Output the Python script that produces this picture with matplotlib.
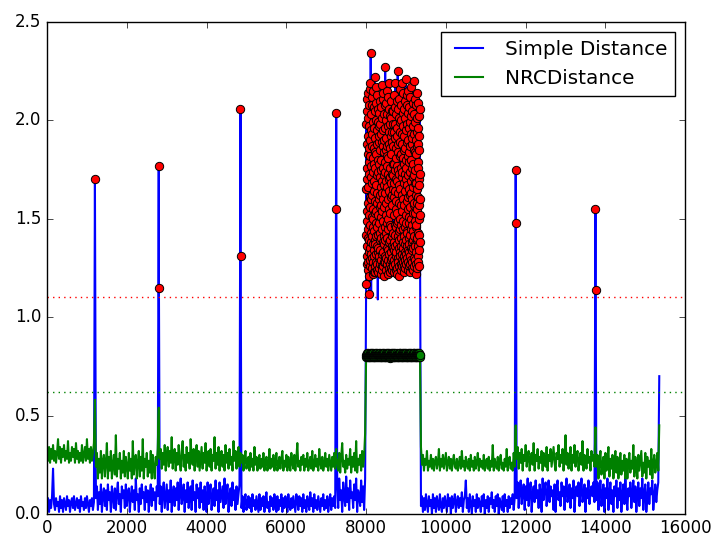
import numpy as np
import matplotlib
matplotlib.use("Agg")
import matplotlib.pyplot as plt

plt.style.use("classic")

# baseline segments (start, end) sampled every ~25, values in hundredths
seg_start = [0, 1225, 2825, 4875, 7275, 9375, 11775, 13775]
seg_end = [1175, 2775, 4825, 7225, 7975, 11725, 13725, 15325]

blue_seg = [
    [4, 8, 1, 7, 3, 9, 23, 5, 2, 8, 4, 6, 1, 9, 3, 7, 1, 8, 5, 2, 9, 4, 7, 1,
     6, 8, 3, 9, 2, 5, 8, 3, 7, 1, 9, 4, 6, 2, 8, 3, 9, 5, 1, 7, 4, 8, 2, 6],
    [8, 14, 2, 11, 5, 15, 1, 10, 13, 4, 12, 2, 15, 7, 11, 1, 14, 9, 3, 13, 2, 11, 16, 5, 10, 1, 14, 8, 12, 3, 15,
     4, 11, 13, 1, 9, 14, 6, 12, 2, 18, 7, 10, 1, 13, 5, 15, 8, 11, 2, 14, 6, 12, 1, 10, 15, 4, 13, 7, 11, 2, 14, 9],
    [5, 14, 1, 11, 16, 3, 9, 15, 2, 12, 6, 17, 1, 10, 14, 4, 13, 7, 16, 2, 11, 18, 5, 9, 15, 1, 12, 6, 16, 3, 10, 14, 2,
     17, 7, 11, 1, 15, 8, 13, 3, 16, 6, 12, 2, 14, 9, 1, 16, 5, 11, 15, 2, 9, 13, 4, 17, 7, 12, 1, 16, 6, 10, 14, 3,
     18, 5, 11, 15, 1, 9, 13, 4, 16, 7, 12, 2, 14, 5, 10, 15],
    [3, 9, 1, 7, 10, 2, 6, 9, 3, 8, 1, 10, 4, 7, 2, 9, 5, 1, 10, 2, 8, 4, 9, 1, 7, 11, 3, 6, 1, 9, 4, 8,
     2, 10, 5, 1, 9, 2, 7, 4, 10, 1, 8, 3, 9, 6, 1, 10, 4, 2, 8, 3, 9, 5, 1, 10, 7, 2, 9, 4, 8, 1, 10,
     3, 7, 1, 9, 5, 2, 11, 4, 8, 1, 10, 3, 7, 2, 9, 5, 1, 8, 4, 10, 2, 7, 3, 9, 1, 6, 10, 2, 8, 4, 9, 3],
    [14, 3, 18, 7, 12, 1, 16, 9, 4, 19, 6, 13, 2, 17, 8, 11, 3, 15, 7, 18, 1, 12, 9, 4, 17, 6, 14, 2, 18],
    [4, 9, 1, 8, 2, 10, 5, 1, 9, 4, 7, 0, 10, 3, 8, 1, 9, 5, 2, 10, 4, 1, 8, 3, 9, 5, 1, 10, 4, 8, 0, 9,
     3, 7, 10, 1, 6, 9, 3, 8, 4, 11, 1, 7, 9, 17, 3, 8, 1, 10, 5, 0, 9, 4, 7, 1, 10, 3, 8, 5, 1, 9, 4,
     10, 0, 7, 3, 9, 1, 8, 5, 11, 3, 7, 1, 9, 4, 10, 0, 8, 5, 2, 9, 1, 10, 4, 7, 1, 9, 3, 8, 5, 10, 2, 8],
    [8, 16, 3, 13, 17, 5, 11, 15, 2, 14, 7, 18, 4, 12, 16, 1, 10, 14, 6, 17, 8, 12, 3, 15, 11, 1, 18, 7, 13, 16,
     4, 10, 17, 6, 14, 9, 12, 2, 15, 1, 13, 17, 7, 11, 4, 16, 9, 14, 2, 12, 18, 6, 10, 15, 3, 13, 8, 17, 1, 11,
     14, 9, 16, 4, 12, 18, 6, 10, 15, 1, 13, 8, 17, 5, 11, 14, 9, 16, 6],
    [7, 16, 2, 12, 17, 4, 10, 15, 1, 13, 8, 18, 2, 11, 16, 5, 12, 1, 14, 9, 17, 3, 13, 7, 16, 1, 10, 15, 5, 18, 8,
     2, 13, 9, 16, 3, 11, 17, 6, 14, 1, 10, 16, 4, 13, 8, 18, 2, 11, 15, 1, 8, 16, 5, 13, 10, 17, 2, 9, 15, 6, 12, 16],
]

green_seg = [
    [30, 27, 34, 26, 33, 28, 35, 27, 32, 26, 31, 38, 28, 34, 26, 33, 29, 35, 27, 32, 28, 37, 26, 31,
     27, 34, 29, 33, 26, 36, 28, 32, 26, 31, 27, 35, 26, 30, 34, 27, 38, 28, 33, 26, 34, 27, 31, 36],
    [24, 31, 18, 28, 21, 32, 18, 27, 30, 19, 26, 36, 18, 29, 22, 32, 18, 25, 30, 20, 40, 19, 28, 23, 31, 18, 27, 21, 32, 19, 29,
     24, 18, 31, 22, 28, 18, 37, 20, 27, 30, 18, 26, 32, 19, 29, 22, 38, 18, 28, 24, 31, 19, 27, 21, 32, 18, 30, 23, 18, 29, 25, 33],
    [28, 33, 23, 31, 25, 35, 22, 30, 34, 24, 32, 26, 39, 23, 29, 33, 22, 31, 25, 35, 27, 22, 32, 37, 24, 30, 22, 34, 26, 31, 23, 38, 28,
     25, 33, 22, 30, 35, 24, 32, 22, 28, 34, 23, 31, 26, 36, 22, 29, 32, 24, 33, 22, 30, 27, 39, 23, 31, 25, 34, 22, 29, 32, 24, 30,
     22, 35, 26, 31, 23, 33, 25, 29, 22, 37, 27, 32, 23, 30, 34, 24],
    [26, 30, 22, 28, 32, 23, 27, 29, 22, 31, 24, 28, 22, 34, 25, 29, 22, 27, 30, 23, 28, 24, 31, 22, 27, 29, 22, 25, 33, 23, 28, 24,
     30, 22, 26, 31, 22, 25, 29, 23, 28, 32, 22, 27, 24, 30, 22, 29, 25, 22, 31, 26, 23, 30, 22, 28, 36, 24, 27, 22, 29, 25, 30,
     22, 28, 24, 31, 22, 26, 29, 23, 32, 22, 25, 30, 24, 28, 22, 33, 26, 23, 29, 22, 25, 31, 24, 28, 22, 30, 26, 22, 29, 24, 31, 23],
    [27, 22, 31, 21, 29, 36, 24, 27, 21, 30, 23, 28, 25, 33, 21, 29, 24, 31, 22, 37, 21, 28, 25, 30, 22, 32, 24, 29, 41],
    [34, 25, 30, 22, 28, 25, 32, 22, 27, 24, 30, 23, 28, 22, 27, 29, 23, 26, 33, 22, 28, 24, 30, 23, 27, 31, 22, 26, 29, 23, 28, 22,
     27, 30, 24, 23, 28, 22, 26, 29, 23, 32, 24, 27, 22, 29, 25, 23, 28, 22, 30, 24, 27, 22, 29, 23, 26, 31, 22, 28, 24, 27, 23,
     30, 22, 26, 28, 23, 29, 22, 27, 24, 35, 22, 28, 25, 23, 29, 22, 27, 30, 23, 26, 22, 28, 24, 33, 22, 27, 29, 23, 26, 22, 31, 24],
    [28, 34, 23, 31, 26, 33, 22, 30, 27, 35, 24, 29, 32, 22, 28, 31, 25, 36, 22, 30, 27, 33, 23, 29, 26, 32, 22, 31, 28, 24,
     34, 22, 30, 27, 33, 24, 29, 34, 26, 22, 31, 28, 35, 24, 30, 26, 33, 22, 29, 40, 25, 31, 23, 28, 34, 22, 30, 26, 35, 24,
     29, 32, 22, 27, 31, 25, 37, 22, 30, 28, 23, 33, 26, 29, 22, 32, 27, 30, 24],
    [24, 30, 18, 27, 32, 20, 25, 29, 18, 31, 22, 26, 34, 19, 28, 23, 30, 18, 26, 32, 21, 29, 18, 25, 31, 20, 27, 22, 30, 18, 28,
     18, 26, 31, 21, 27, 23, 35, 19, 29, 25, 18, 30, 22, 27, 32, 19, 26, 21, 31, 18, 29, 24, 27, 20, 33, 18, 26, 30, 21, 25, 31, 22],
]

# isolated spikes following each segment (the cluster follows segment 4 instead)
spike_x = [[1200], [2800, 2805], [4850, 4855], [7250, 7255], [11750, 11755], [13750, 13755], [15350]]
spike_blue = [[1.70], [1.77, 1.15], [2.06, 1.31], [2.04, 1.55], [1.75, 1.48], [1.55, 1.14], [0.70]]
spike_green = [[0.58], [0.54, 0.30], [0.31, 0.27], [0.33, 0.28], [0.45, 0.30], [0.44, 0.27], [0.45]]

# dense anomalous block 8000-9350, hundredths
cluster_start, cluster_end = 8000, 9350
cluster_blue = [
    117, 165, 142, 198, 131, 176, 154, 205, 127, 188,
    149, 211, 136, 170, 192, 124, 158, 183, 140, 201,
    128, 166, 214, 145, 179, 133, 197, 152, 121, 186,
    112, 173, 139, 208, 161, 126, 190, 147, 216, 135,
    182, 156, 129, 219, 143, 171, 234, 138, 195, 160,
    110, 177, 132, 203, 151, 187, 125, 168, 212, 141,
    193, 130, 162, 208, 146, 122, 181, 155, 199, 137,
    174, 128, 215, 150, 186, 134, 164, 207, 123, 178,
    144, 196, 131, 169, 222, 139, 184, 153, 126, 205,
    159, 137, 191, 123, 176, 148, 217, 132, 167, 200,
    128, 183, 154, 209, 141, 172, 124, 195, 136, 163,
    188, 146, 127, 213, 158, 133, 180, 109, 152, 199,
    135, 174, 206, 142, 123, 189, 160, 130, 197, 148,
    204, 131, 178, 125, 192, 156, 139, 185, 162, 127,
    171, 210, 143, 134, 198, 151, 122, 180, 166, 207,
    129, 157, 193, 140, 175, 218, 126, 163, 189, 145,
    201, 132, 169, 154, 124, 187, 211, 138, 176, 149,
    126, 195, 160, 133, 214, 172, 141, 184, 128, 203,
    156, 137, 190, 121, 167, 208, 146, 179, 131, 196,
    163, 227, 139, 174, 128, 200, 152, 185, 124, 169,
    209, 143, 158, 191, 130, 177, 148, 215, 135, 182,
    127, 166, 203, 140, 187, 122, 173, 197, 150, 134,
    181, 212, 129, 160, 145, 194, 125, 170, 206, 138,
    155, 188, 132, 219, 164, 127, 198, 147, 176, 123,
    202, 139, 171, 153, 186, 129, 210, 161, 133, 192,
    146, 125, 183, 168, 201, 136, 157, 124, 194, 173,
    130, 205, 162, 141, 189, 127, 178, 198, 135, 165,
    143, 187, 126, 172, 205, 138, 161, 194, 129, 178,
    152, 213, 134, 168, 123, 191, 147, 207, 136, 175,
    198, 127, 164, 142, 219, 155, 131, 186, 170, 124,
    181, 146, 203, 133, 159, 192, 125, 177, 148, 210,
    137, 169, 122, 196, 153, 184, 141, 225, 130, 163,
    206, 149, 175, 128, 188, 135, 167, 201, 144, 121,
    173, 139, 211, 158, 126, 194, 150, 182, 133, 199,
    145, 216, 131, 165, 189, 127, 176, 140, 208, 157,
    124, 183, 147, 200, 136, 171, 219, 129, 162, 193,
    154, 132, 188, 126, 174, 145, 204, 138, 181, 128,
    197, 160, 135, 214, 149, 123, 185, 168, 131, 206,
    141, 178, 126, 192, 157, 133, 210, 146, 173, 137,
    186, 129, 164, 201, 125, 180, 152, 221, 139, 170,
    132, 195, 148, 176, 127, 208, 159, 136, 189, 144,
    213, 130, 167, 143, 198, 124, 182, 155, 134, 204,
    161, 190, 128, 172, 215, 140, 165, 126, 196, 151,
    179, 137, 207, 133, 184, 148, 123, 199, 162, 142,
    127, 174, 156, 212, 131, 187, 145, 169, 202, 135,
    193, 150, 129, 180, 163, 217, 138, 176, 125, 188,
    147, 205, 134, 160, 191, 128, 171, 153, 209, 139,
    166, 124, 197, 144, 178, 135, 220, 157, 130, 185,
    203, 141, 172, 126, 193, 158, 137, 211, 149, 168,
    129, 184, 153, 199, 136, 175, 122, 190, 162, 146,
    208, 133, 168, 147, 183, 127, 201, 155, 139, 194,
    158, 125, 187, 140, 214, 165, 131, 179, 196, 143,
    176, 209, 136, 161, 128, 188, 150, 202, 134, 170,
    142, 192, 157, 126, 185, 167, 206, 138, 173, 160,
    152,
]
cluster_green = [
    81, 80, 81, 81, 82, 80, 81, 81, 80, 81,
    81, 82, 81, 80, 81, 81, 80, 82, 81, 81,
    80, 81, 81, 82, 81, 80, 81, 81, 80, 81,
    82, 81, 80, 81, 81, 81, 82, 80, 81, 81,
    81, 80, 81, 82, 81, 81, 80, 81, 81, 82,
    81, 81, 80, 81, 82, 81, 81, 80, 81, 81,
    80, 81, 81, 80, 81, 82, 81, 81, 80, 81,
    81, 82, 81, 80, 81, 81, 80, 81, 82, 81,
    80, 81, 81, 82, 81, 80, 81, 81, 81, 80,
    81, 81, 82, 80, 81, 81, 80, 81, 82, 81,
    81, 80, 81, 81, 82, 81, 80, 81, 81, 80,
    82, 81, 81, 80, 81, 81, 82, 80, 81, 81,
    79, 80, 81, 82, 81, 81, 80, 81, 81, 82,
    81, 80, 81, 81, 82, 81, 80, 81, 81, 80,
    81, 82, 80, 81, 81, 80, 81, 82, 81, 81,
    80, 81, 81, 82, 81, 80, 81, 81, 80, 81,
    81, 81, 80, 81, 82, 81, 81, 80, 81, 82,
    80, 81, 82, 81, 80, 81, 81, 81, 82, 80,
    81, 80, 81, 81, 82, 81, 80, 81, 81, 81,
    82, 81, 80, 81, 81, 80, 82, 81, 81, 80,
    81, 81, 82, 80, 81, 81, 80, 81, 81, 82,
    80, 81, 81, 81, 82, 80, 81, 81, 80, 81,
    81, 82, 81, 80, 81, 81, 82, 80, 81, 81,
    80, 81, 81, 82, 81, 81, 80, 81, 82, 81,
    81, 80, 82, 81, 81, 80, 81, 81, 82, 80,
    81, 81, 80, 81, 82, 81, 81, 80, 81, 81,
    82, 80, 81, 81, 80, 81, 82, 81, 81, 80,
    81,
]

blue_thr = 1.1
green_thr = 0.62


def build(seg_vals, spike_vals, cluster_vals):
    xs, ys = [], []
    k = 0
    for i in range(len(seg_start)):
        vals = np.array(seg_vals[i]) / 100.0
        xs.append(np.linspace(seg_start[i], seg_end[i], len(vals)))
        ys.append(vals)
        if i == 4:
            cv = np.array(cluster_vals) / 100.0
            xs.append(np.linspace(cluster_start, cluster_end, len(cv)))
            ys.append(cv)
        else:
            xs.append(np.array(spike_x[k], dtype=float))
            ys.append(np.array(spike_vals[k]))
            k += 1
    return np.concatenate(xs), np.concatenate(ys)


bx, blue = build(blue_seg, spike_blue, cluster_blue)
gx, green = build(green_seg, spike_green, cluster_green)

fig = plt.figure(figsize=(7.13, 5.37), dpi=100, facecolor="white")
ax = fig.add_axes([0.066, 0.043, 0.895, 0.916])

ax.plot(bx, blue, "b-", lw=1.5, label="Simple Distance")
ax.plot(gx, green, "g-", lw=1.5, label="NRCDistance")

hb = blue > blue_thr
hg = green > green_thr
ax.plot(bx[hb], blue[hb], "ro", mew=0.7)
ax.plot(gx[hg], green[hg], "go", mew=0.7)

ax.axhline(blue_thr, color="r", linestyle=":")
ax.axhline(green_thr, color="g", linestyle=":")

ax.set_xlim(0, 16000)
ax.set_ylim(0, 2.5)
ax.set_xticks(np.arange(0, 16001, 2000))
ax.set_yticks(np.arange(0, 2.51, 0.5))

ax.legend(loc="upper right")

fig.savefig("out.png", dpi=100, facecolor="white")
